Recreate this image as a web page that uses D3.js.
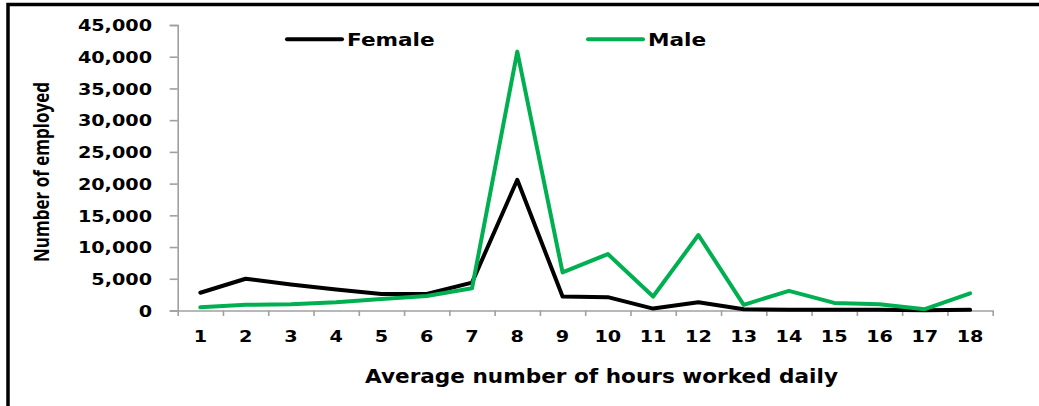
<!DOCTYPE html>
<html>
<head>
<meta charset="utf-8">
<script src="https://cdn.jsdelivr.net/npm/d3@7/dist/d3.min.js"></script>
<style>
  body { margin: 0; background: #fff; }
  svg { display: block; }
  text { font-family: "DejaVu Sans", Verdana, sans-serif; font-weight: bold; fill: #000; }
</style>
</head>
<body>
<svg id="chart"></svg>
<script>
var hours = [1, 2, 3, 4, 5, 6, 7, 8, 9, 10, 11, 12, 13, 14, 15, 16, 17, 18];
var female = [2800, 5000, 4100, 3300, 2600, 2600, 4400, 20600, 2200, 2100, 300, 1300, 200, 100, 100, 100, 50, 100];
var male = [500, 900, 1000, 1300, 1800, 2300, 3500, 40800, 6000, 8900, 2200, 11900, 900, 3100, 1200, 1000, 200, 2700];
var yTicks = [0, 5000, 10000, 15000, 20000, 25000, 30000, 35000, 40000, 45000];
var seriesNames = ['Female', 'Male'];
var colors = ['#000000', '#00b050'];

var width = 1039, height = 406;
var margin = { top: 25, right: 46.3, bottom: 95.5, left: 177.7 };
var stretch = 1.2; // the original picture is widened a little

var svg = d3.select('#chart').attr('width', width).attr('height', height);

// outer frame, only top and left edges show
svg.append('rect')
    .attr('x', 8).attr('y', 4.5)
    .attr('width', 1200).attr('height', 600)
    .attr('fill', 'none')
    .attr('stroke', '#000')
    .attr('stroke-width', 3.5);

var y = d3.scaleLinear().domain([0, 45000]).range([height - margin.bottom, margin.top]);
var x = d3.scaleBand().domain(hours).range([margin.left, width - margin.right]);
var xEdge = d3.scaleLinear().domain([0.5, 18.5]).range([margin.left, width - margin.right]);

function widen(sel, f) {
    sel.each(function () {
        var w = this.getComputedTextLength();
        d3.select(this).attr('textLength', w * f).attr('lengthAdjust', 'spacingAndGlyphs');
    });
}

// Y axis
var yAxis = svg.append('g')
    .attr('transform', 'translate(' + margin.left + ',0)')
    .call(d3.axisLeft(y).tickValues(yTicks).tickSize(8).tickPadding(17.7).tickFormat(d3.format(',')));
yAxis.select('.domain').attr('stroke', '#a0a0a0').attr('stroke-width', 1.6);
yAxis.selectAll('.tick line').attr('stroke', '#a0a0a0').attr('stroke-width', 1.6);
yAxis.selectAll('text')
    .style('font-family', '"DejaVu Sans", Verdana, sans-serif')
    .style('font-weight', 'bold')
    .attr('font-size', 16)
    .attr('dy', '0.36em')
    .call(widen, stretch);

// X axis: ticks on band edges
var xAxis = svg.append('g')
    .attr('transform', 'translate(0,' + y(0) + ')')
    .call(d3.axisBottom(xEdge).tickValues(d3.range(0.5, 19, 1)).tickSize(5.5).tickFormat('').tickSizeOuter(0));
xAxis.select('.domain').attr('stroke', '#a0a0a0').attr('stroke-width', 1.6);
xAxis.selectAll('.tick line').attr('stroke', '#a0a0a0').attr('stroke-width', 1.6);

svg.append('g')
    .selectAll('text')
    .data(hours)
    .enter()
    .append('text')
    .attr('x', function (d) { return x(d) + x.bandwidth() / 2; })
    .attr('y', 341.5)
    .attr('text-anchor', 'middle')
    .attr('font-size', 16)
    .text(function (d) { return d; })
    .call(widen, stretch);

// lines
var line = d3.line()
    .x(function (d, i) { return x(hours[i]) + x.bandwidth() / 2; })
    .y(function (d) { return y(d); });

[female, male].forEach(function (s, i) {
    svg.append('path')
        .attr('d', line(s))
        .attr('fill', 'none')
        .attr('stroke', colors[i])
        .attr('stroke-width', 4)
        .attr('stroke-linejoin', 'round')
        .attr('stroke-linecap', 'round');
});

// legend
var legendX = [287, 588];
seriesNames.forEach(function (name, i) {
    svg.append('line')
        .attr('x1', legendX[i]).attr('x2', legendX[i] + 55)
        .attr('y1', 39.3).attr('y2', 39.3)
        .attr('stroke', colors[i])
        .attr('stroke-width', 4)
        .attr('stroke-linecap', 'round');
    svg.append('text')
        .attr('x', legendX[i] + 60)
        .attr('y', 46)
        .attr('font-size', 18)
        .text(name)
        .call(widen, stretch);
});

// axis titles
svg.append('text')
    .attr('x', 365)
    .attr('y', 382.5)
    .attr('font-size', 19)
    .attr('textLength', 473)
    .attr('lengthAdjust', 'spacingAndGlyphs')
    .text('Average number of hours worked daily');

svg.append('text')
    .attr('transform', 'translate(49,172) scale(1.2,1) rotate(-90)')
    .attr('text-anchor', 'middle')
    .style('font-family', '"Liberation Sans Narrow", "Open Sans", sans-serif')
    .attr('font-size', 18)
    .attr('textLength', 180)
    .attr('lengthAdjust', 'spacingAndGlyphs')
    .text('Number of employed');
</script>
</body>
</html>
